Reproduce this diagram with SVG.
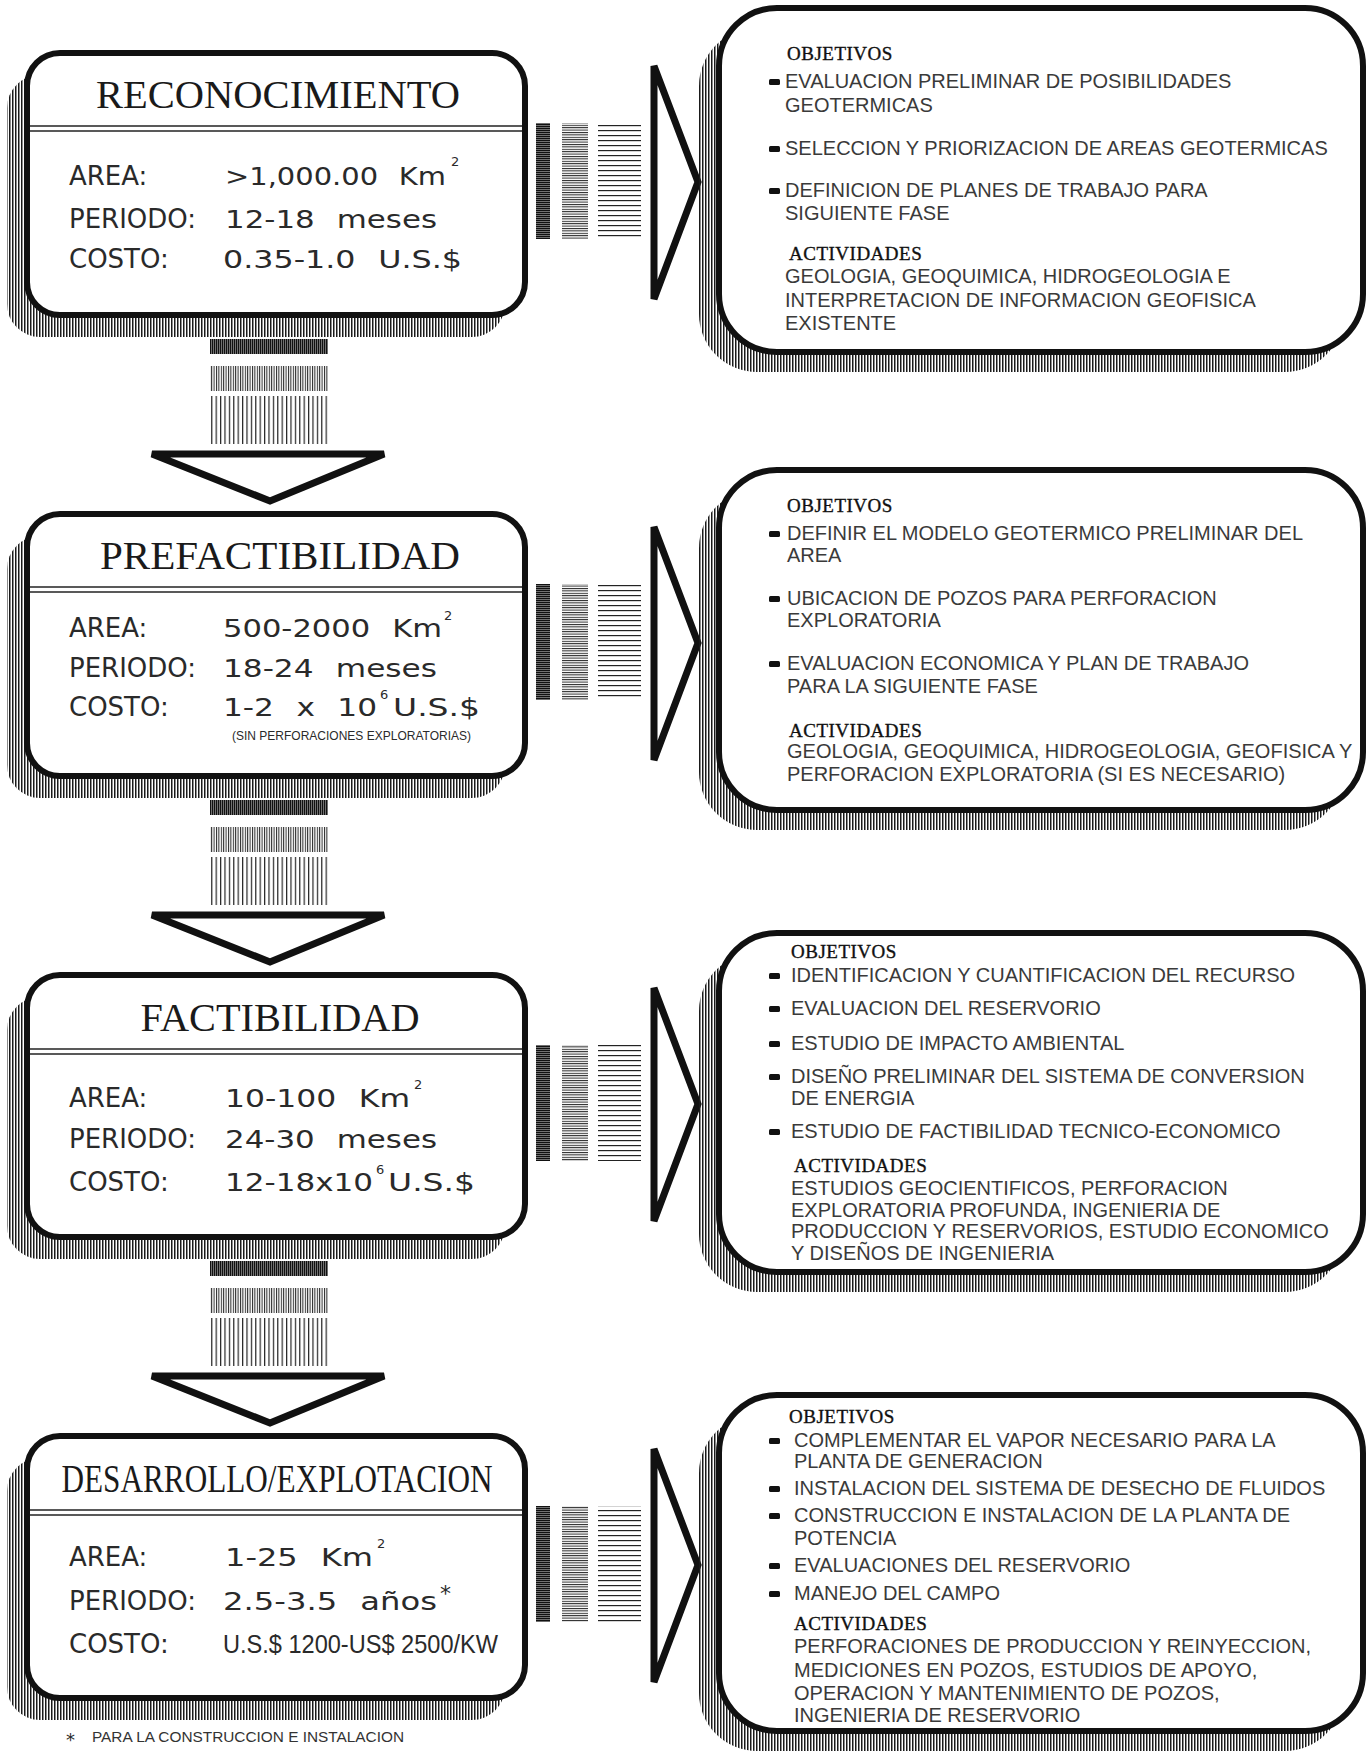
<svg xmlns="http://www.w3.org/2000/svg" width="1370" height="1751" viewBox="0 0 1370 1751">
<style>
.bg{fill:#ffffff}
.box{fill:#ffffff;stroke:#111;stroke-width:6}
.shadow{fill:url(#hatchV);stroke:none}
.sep{stroke:#222;stroke-width:1.5;fill:none}
.tri{fill:#ffffff;stroke:#111;stroke-width:7;stroke-linejoin:miter}
.title{font-family:"Liberation Serif","Times New Roman",serif;font-size:40px;fill:#1a1a1a}
.lbl{font-family:"DejaVu Sans","Liberation Sans",sans-serif;font-size:26px;fill:#2a2a2a}
.val{font-family:"DejaVu Sans","Liberation Sans",sans-serif;font-size:25px;fill:#2a2a2a;word-spacing:10px}
.cond{font-family:"Liberation Sans",Arial,sans-serif;font-size:26px;fill:#2a2a2a}
.ast{font-family:"DejaVu Sans","Liberation Sans",sans-serif;fill:#2a2a2a}
.sup{font-family:"DejaVu Sans","Liberation Sans",sans-serif;font-size:13px;fill:#2a2a2a}
.small{font-family:"Liberation Sans",Arial,sans-serif;font-size:13px;fill:#2a2a2a}
.hd{font-family:"Liberation Serif","Times New Roman",serif;font-size:19px;fill:#111;stroke:#111;stroke-width:0.35;letter-spacing:0.5px}
.body{font-family:"Liberation Sans",Arial,sans-serif;font-size:20px;fill:#3a3a3a}
.bul{fill:#111}
.foot{font-family:"Liberation Sans",Arial,sans-serif;font-size:14px;fill:#333}
</style>
<defs>
<pattern id="hatchV" width="3" height="4" patternUnits="userSpaceOnUse"><rect width="1.5" height="4" fill="#1a1a1a"/></pattern>
<pattern id="hDense" width="4" height="2" patternUnits="userSpaceOnUse"><rect width="4" height="1.6" fill="#111"/></pattern>
<pattern id="hMid" width="4" height="2.4" patternUnits="userSpaceOnUse"><rect width="4" height="1" fill="#222"/></pattern>
<pattern id="hSparse" width="4" height="5" patternUnits="userSpaceOnUse"><rect width="4" height="1.2" fill="#222"/></pattern>
<pattern id="vDense" width="2" height="4" patternUnits="userSpaceOnUse"><rect width="1.6" height="4" fill="#111"/></pattern>
<pattern id="vMid" width="2.4" height="4" patternUnits="userSpaceOnUse"><rect width="1" height="4" fill="#222"/></pattern>
<pattern id="vSparse" width="4.4" height="4" patternUnits="userSpaceOnUse"><rect width="1.2" height="4" fill="#222"/></pattern>
</defs>
<rect class="bg" x="0" y="0" width="1370" height="1751"/>

<g id="connectors">
  <g id="conn-h1">
    <rect x="536" y="123" width="14" height="116" fill="url(#hDense)"/>
    <rect x="562" y="123" width="26" height="116" fill="url(#hMid)"/>
    <rect x="598" y="123" width="43" height="116" fill="url(#hSparse)"/>
    <polygon class="tri" points="654,66 698,182 654,299"/>
  </g>
  <g id="conn-h2">
    <rect x="536" y="584" width="14" height="116" fill="url(#hDense)"/>
    <rect x="562" y="584" width="26" height="116" fill="url(#hMid)"/>
    <rect x="598" y="584" width="43" height="116" fill="url(#hSparse)"/>
    <polygon class="tri" points="654,527 698,643 654,760"/>
  </g>
  <g id="conn-h3">
    <rect x="536" y="1045" width="14" height="116" fill="url(#hDense)"/>
    <rect x="562" y="1045" width="26" height="116" fill="url(#hMid)"/>
    <rect x="598" y="1045" width="43" height="116" fill="url(#hSparse)"/>
    <polygon class="tri" points="654,988 698,1104 654,1221"/>
  </g>
  <g id="conn-h4">
    <rect x="536" y="1506" width="14" height="116" fill="url(#hDense)"/>
    <rect x="562" y="1506" width="26" height="116" fill="url(#hMid)"/>
    <rect x="598" y="1506" width="43" height="116" fill="url(#hSparse)"/>
    <polygon class="tri" points="654,1449 698,1565 654,1682"/>
  </g>
  <g id="conn-v1">
    <rect x="210" y="339" width="118" height="15" fill="url(#vDense)"/>
    <rect x="210" y="366" width="118" height="25" fill="url(#vMid)"/>
    <rect x="210" y="396" width="118" height="48" fill="url(#vSparse)"/>
    <polygon class="tri" points="152,454 384,454 270,501"/>
  </g>
  <g id="conn-v2">
    <rect x="210" y="800" width="118" height="15" fill="url(#vDense)"/>
    <rect x="210" y="827" width="118" height="25" fill="url(#vMid)"/>
    <rect x="210" y="857" width="118" height="48" fill="url(#vSparse)"/>
    <polygon class="tri" points="152,915 384,915 270,962"/>
  </g>
  <g id="conn-v3">
    <rect x="210" y="1261" width="118" height="15" fill="url(#vDense)"/>
    <rect x="210" y="1288" width="118" height="25" fill="url(#vMid)"/>
    <rect x="210" y="1318" width="118" height="48" fill="url(#vSparse)"/>
    <polygon class="tri" points="152,1376 384,1376 270,1423"/>
  </g>
</g>

<g id="node-reconocimiento">
  <rect class="shadow" x="7" y="75" width="498" height="262" rx="33"/>
  <rect class="box" x="27" y="53" width="498" height="262" rx="33"/>
  <text class="title" x="278" y="108" text-anchor="middle" textLength="364" lengthAdjust="spacingAndGlyphs">RECONOCIMIENTO</text>
  <line class="sep" x1="30" y1="126" x2="522" y2="126"/>
  <line class="sep" x1="30" y1="131" x2="522" y2="131"/>
  <text class="lbl" x="69" y="185">AREA:</text>
  <text class="val" x="225" y="185" textLength="221" lengthAdjust="spacingAndGlyphs">&gt;1,000.00 Km</text>
  <text class="sup" x="451" y="166">2</text>
  <text class="lbl" x="69" y="228">PERIODO:</text>
  <text class="val" x="225" y="228" textLength="212" lengthAdjust="spacingAndGlyphs">12-18 meses</text>
  <text class="lbl" x="69" y="268">COSTO:</text>
  <text class="val" x="223" y="268" textLength="239" lengthAdjust="spacingAndGlyphs">0.35-1.0 U.S.$</text>
</g>

<g id="node-prefactibilidad">
  <rect class="shadow" x="7" y="536" width="498" height="262" rx="33"/>
  <rect class="box" x="27" y="514" width="498" height="262" rx="33"/>
  <text class="title" x="280" y="569" text-anchor="middle" textLength="360" lengthAdjust="spacingAndGlyphs">PREFACTIBILIDAD</text>
  <line class="sep" x1="30" y1="587" x2="522" y2="587"/>
  <line class="sep" x1="30" y1="592" x2="522" y2="592"/>
  <text class="lbl" x="69" y="637">AREA:</text>
  <text class="val" x="223" y="637" textLength="219" lengthAdjust="spacingAndGlyphs">500-2000 Km</text>
  <text class="sup" x="444" y="620">2</text>
  <text class="lbl" x="69" y="677">PERIODO:</text>
  <text class="val" x="223" y="677" textLength="214" lengthAdjust="spacingAndGlyphs">18-24 meses</text>
  <text class="lbl" x="69" y="716">COSTO:</text>
  <text class="val" x="223" y="716" textLength="154" lengthAdjust="spacingAndGlyphs">1-2 x 10</text>
  <text class="sup" x="380" y="699">6</text>
  <text class="val" x="393" y="716" textLength="87" lengthAdjust="spacingAndGlyphs">U.S.$</text>
  <text class="small" x="232" y="740" textLength="239" lengthAdjust="spacingAndGlyphs">(SIN PERFORACIONES EXPLORATORIAS)</text>
</g>

<g id="node-factibilidad">
  <rect class="shadow" x="7" y="997" width="498" height="262" rx="33"/>
  <rect class="box" x="27" y="975" width="498" height="262" rx="33"/>
  <text class="title" x="280" y="1031" text-anchor="middle" textLength="279" lengthAdjust="spacingAndGlyphs">FACTIBILIDAD</text>
  <line class="sep" x1="30" y1="1049" x2="522" y2="1049"/>
  <line class="sep" x1="30" y1="1054" x2="522" y2="1054"/>
  <text class="lbl" x="69" y="1107">AREA:</text>
  <text class="val" x="225" y="1107" textLength="185" lengthAdjust="spacingAndGlyphs">10-100 Km</text>
  <text class="sup" x="414" y="1089">2</text>
  <text class="lbl" x="69" y="1148">PERIODO:</text>
  <text class="val" x="225" y="1148" textLength="212" lengthAdjust="spacingAndGlyphs">24-30 meses</text>
  <text class="lbl" x="69" y="1191">COSTO:</text>
  <text class="val" x="225" y="1191" textLength="148" lengthAdjust="spacingAndGlyphs">12-18x10</text>
  <text class="sup" x="376" y="1174">6</text>
  <text class="val" x="388" y="1191" textLength="87" lengthAdjust="spacingAndGlyphs">U.S.$</text>
</g>

<g id="node-desarrollo">
  <rect class="shadow" x="7" y="1458" width="498" height="262" rx="33"/>
  <rect class="box" x="27" y="1436" width="498" height="262" rx="33"/>
  <text class="title" x="277" y="1492" text-anchor="middle" textLength="431" lengthAdjust="spacingAndGlyphs">DESARROLLO/EXPLOTACION</text>
  <line class="sep" x1="30" y1="1510" x2="522" y2="1510"/>
  <line class="sep" x1="30" y1="1515" x2="522" y2="1515"/>
  <text class="lbl" x="69" y="1566">AREA:</text>
  <text class="val" x="225" y="1566" textLength="148" lengthAdjust="spacingAndGlyphs">1-25 Km</text>
  <text class="sup" x="377" y="1548">2</text>
  <text class="lbl" x="69" y="1610">PERIODO:</text>
  <text class="val" x="223" y="1610" textLength="214" lengthAdjust="spacingAndGlyphs">2.5-3.5 años</text>
  <text class="ast" x="440" y="1601" style="font-size:22px">*</text>
  <text class="lbl" x="69" y="1653">COSTO:</text>
  <text class="cond" x="223" y="1653" textLength="275" lengthAdjust="spacingAndGlyphs">U.S.$ 1200-US$ 2500/KW</text>
</g>

<g id="footnote">
  <text class="ast" x="66" y="1746" style="font-size:18px">*</text>
  <text class="foot" x="92" y="1742" textLength="312" lengthAdjust="spacingAndGlyphs">PARA LA CONSTRUCCION E INSTALACION</text>
</g>

<g id="obj-reconocimiento">
  <rect class="shadow" x="699" y="28" width="644" height="344" rx="58"/>
  <rect class="box" x="719" y="8" width="644" height="344" rx="58"/>
  <text class="hd" x="787" y="60">OBJETIVOS</text>
  <rect class="bul" x="769" y="79" width="11" height="6" rx="1.5"/>
  <text class="body" x="785" y="88">EVALUACION PRELIMINAR DE POSIBILIDADES</text>
  <text class="body" x="785" y="112">GEOTERMICAS</text>
  <rect class="bul" x="769" y="146" width="11" height="6" rx="1.5"/>
  <text class="body" x="785" y="155">SELECCION Y PRIORIZACION DE AREAS GEOTERMICAS</text>
  <rect class="bul" x="769" y="188" width="11" height="6" rx="1.5"/>
  <text class="body" x="785" y="197">DEFINICION DE PLANES DE TRABAJO PARA</text>
  <text class="body" x="785" y="220">SIGUIENTE FASE</text>
  <text class="hd" x="789" y="260">ACTIVIDADES</text>
  <text class="body" x="785" y="283">GEOLOGIA, GEOQUIMICA, HIDROGEOLOGIA E</text>
  <text class="body" x="785" y="307">INTERPRETACION DE INFORMACION GEOFISICA</text>
  <text class="body" x="785" y="330">EXISTENTE</text>
</g>

<g id="obj-prefactibilidad">
  <rect class="shadow" x="699" y="490" width="644" height="340" rx="58"/>
  <rect class="box" x="719" y="470" width="644" height="340" rx="58"/>
  <text class="hd" x="787" y="512">OBJETIVOS</text>
  <rect class="bul" x="769" y="531" width="11" height="6" rx="1.5"/>
  <text class="body" x="787" y="540">DEFINIR EL MODELO GEOTERMICO PRELIMINAR DEL</text>
  <text class="body" x="787" y="562">AREA</text>
  <rect class="bul" x="769" y="596" width="11" height="6" rx="1.5"/>
  <text class="body" x="787" y="605">UBICACION DE POZOS PARA PERFORACION</text>
  <text class="body" x="787" y="627">EXPLORATORIA</text>
  <rect class="bul" x="769" y="661" width="11" height="6" rx="1.5"/>
  <text class="body" x="787" y="670">EVALUACION ECONOMICA Y PLAN DE TRABAJO</text>
  <text class="body" x="787" y="693">PARA LA SIGUIENTE FASE</text>
  <text class="hd" x="789" y="737">ACTIVIDADES</text>
  <text class="body" x="787" y="758">GEOLOGIA, GEOQUIMICA, HIDROGEOLOGIA, GEOFISICA Y</text>
  <text class="body" x="787" y="781">PERFORACION EXPLORATORIA (SI ES NECESARIO)</text>
</g>

<g id="obj-factibilidad">
  <rect class="shadow" x="699" y="953" width="644" height="339" rx="58"/>
  <rect class="box" x="719" y="933" width="644" height="339" rx="58"/>
  <text class="hd" x="791" y="958">OBJETIVOS</text>
  <rect class="bul" x="769" y="973" width="11" height="6" rx="1.5"/>
  <text class="body" x="791" y="982">IDENTIFICACION Y CUANTIFICACION DEL RECURSO</text>
  <rect class="bul" x="769" y="1006" width="11" height="6" rx="1.5"/>
  <text class="body" x="791" y="1015">EVALUACION DEL RESERVORIO</text>
  <rect class="bul" x="769" y="1041" width="11" height="6" rx="1.5"/>
  <text class="body" x="791" y="1050">ESTUDIO DE IMPACTO AMBIENTAL</text>
  <rect class="bul" x="769" y="1074" width="11" height="6" rx="1.5"/>
  <text class="body" x="791" y="1083">DISEÑO PRELIMINAR DEL SISTEMA DE CONVERSION</text>
  <text class="body" x="791" y="1105">DE ENERGIA</text>
  <rect class="bul" x="769" y="1129" width="11" height="6" rx="1.5"/>
  <text class="body" x="791" y="1138">ESTUDIO DE FACTIBILIDAD TECNICO-ECONOMICO</text>
  <text class="hd" x="794" y="1172">ACTIVIDADES</text>
  <text class="body" x="791" y="1195">ESTUDIOS GEOCIENTIFICOS, PERFORACION</text>
  <text class="body" x="791" y="1217">EXPLORATORIA PROFUNDA, INGENIERIA DE</text>
  <text class="body" x="791" y="1238">PRODUCCION Y RESERVORIOS, ESTUDIO ECONOMICO</text>
  <text class="body" x="791" y="1260">Y DISEÑOS DE INGENIERIA</text>
</g>

<g id="obj-desarrollo">
  <rect class="shadow" x="699" y="1415" width="644" height="336" rx="58"/>
  <rect class="box" x="719" y="1395" width="644" height="336" rx="58"/>
  <text class="hd" x="789" y="1423">OBJETIVOS</text>
  <rect class="bul" x="769" y="1438" width="11" height="6" rx="1.5"/>
  <text class="body" x="794" y="1447">COMPLEMENTAR EL VAPOR NECESARIO PARA LA</text>
  <text class="body" x="794" y="1468">PLANTA DE GENERACION</text>
  <rect class="bul" x="769" y="1486" width="11" height="6" rx="1.5"/>
  <text class="body" x="794" y="1495">INSTALACION DEL SISTEMA DE DESECHO DE FLUIDOS</text>
  <rect class="bul" x="769" y="1513" width="11" height="6" rx="1.5"/>
  <text class="body" x="794" y="1522">CONSTRUCCION E INSTALACION DE LA PLANTA DE</text>
  <text class="body" x="794" y="1545">POTENCIA</text>
  <rect class="bul" x="769" y="1563" width="11" height="6" rx="1.5"/>
  <text class="body" x="794" y="1572">EVALUACIONES DEL RESERVORIO</text>
  <rect class="bul" x="769" y="1591" width="11" height="6" rx="1.5"/>
  <text class="body" x="794" y="1600">MANEJO DEL CAMPO</text>
  <text class="hd" x="794" y="1630">ACTIVIDADES</text>
  <text class="body" x="794" y="1653">PERFORACIONES DE PRODUCCION Y REINYECCION,</text>
  <text class="body" x="794" y="1677">MEDICIONES EN POZOS, ESTUDIOS DE APOYO,</text>
  <text class="body" x="794" y="1700">OPERACION Y MANTENIMIENTO DE POZOS,</text>
  <text class="body" x="794" y="1722">INGENIERIA DE RESERVORIO</text>
</g>
</svg>
